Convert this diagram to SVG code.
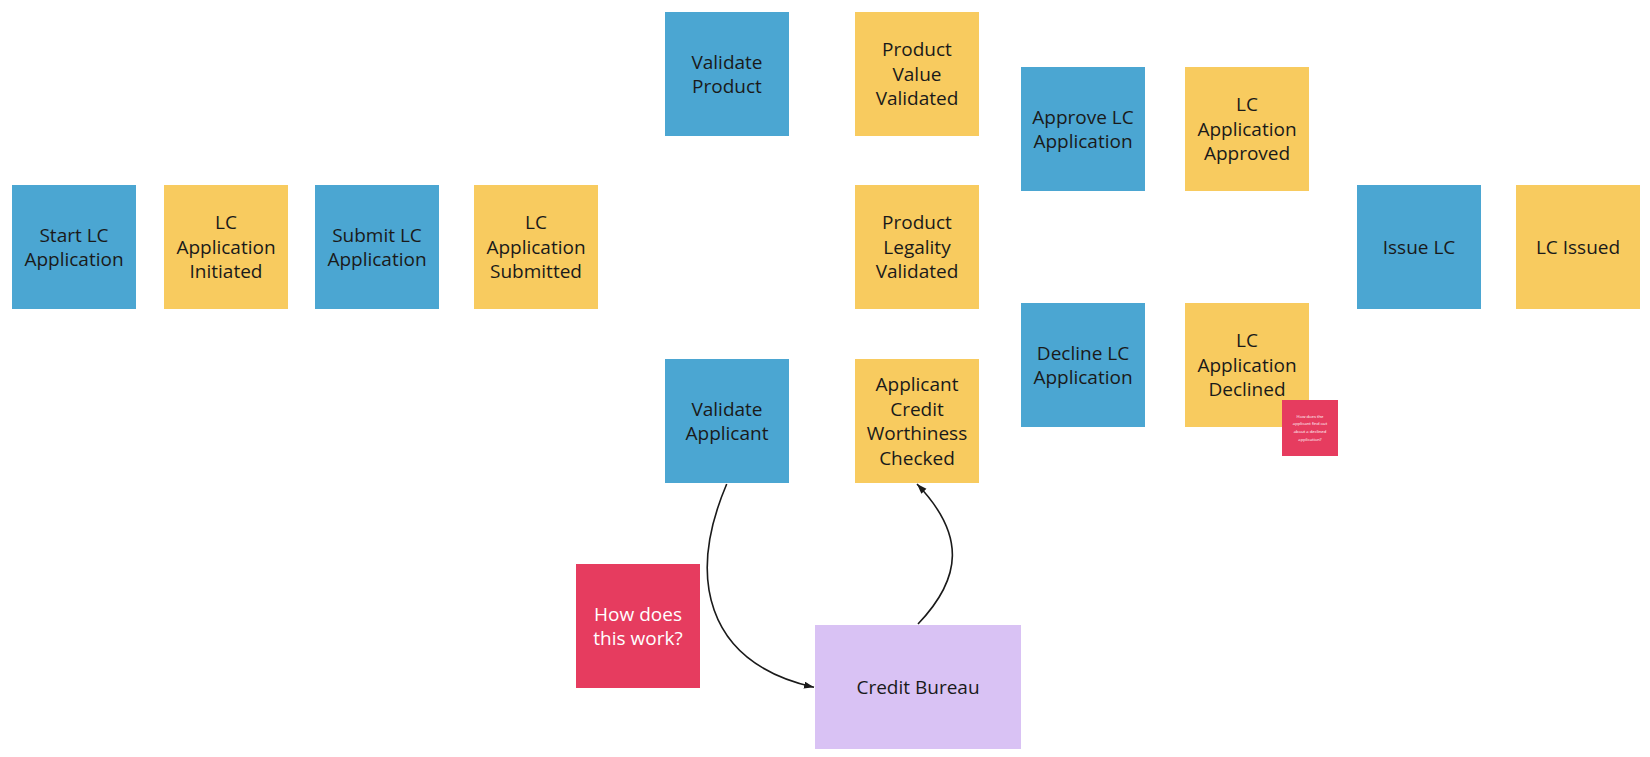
<svg xmlns="http://www.w3.org/2000/svg" width="1650" height="757" viewBox="0 0 1650 757">
  <defs>
    <style>
      .blue { fill: #4BA6D2; }
      .yellow { fill: #F8CB5F; }
      .red { fill: #E63C5F; }
      .purple { fill: #D9C2F4; }
      .lbl { font-family: "Open Sans", "Liberation Sans", sans-serif; font-size: 19px; fill: #1a1a1a; text-anchor: middle; }
      .lbl-w { font-family: "Open Sans", "Liberation Sans", sans-serif; font-size: 19px; fill: #ffffff; text-anchor: middle; }
      .tiny { font-family: "Open Sans", "Liberation Sans", sans-serif; font-size: 4.2px; fill: #ffffff; text-anchor: middle; }
      .conn { fill: none; stroke: #1a1a1a; stroke-width: 1.6; }
    </style>
    <marker id="arrow" markerWidth="11" markerHeight="8" refX="10" refY="3.5" orient="auto" markerUnits="userSpaceOnUse">
      <path d="M0,0 L10,3.5 L0,7 z" fill="#1a1a1a"/>
    </marker>
  </defs>
  <rect width="1650" height="757" fill="#ffffff"/>

  <g id="start-lc-application">
    <rect class="blue" x="12" y="185" width="124" height="124"/>
    <text class="lbl"><tspan x="74" y="241.5">Start LC</tspan><tspan x="74" y="266.1">Application</tspan></text>
  </g>
  <g id="lc-application-initiated">
    <rect class="yellow" x="164" y="185" width="124" height="124"/>
    <text class="lbl"><tspan x="226" y="229.2">LC</tspan><tspan x="226" y="253.8">Application</tspan><tspan x="226" y="278.4">Initiated</tspan></text>
  </g>
  <g id="submit-lc-application">
    <rect class="blue" x="315" y="185" width="124" height="124"/>
    <text class="lbl"><tspan x="377" y="241.5">Submit LC</tspan><tspan x="377" y="266.1">Application</tspan></text>
  </g>
  <g id="lc-application-submitted">
    <rect class="yellow" x="474" y="185" width="124" height="124"/>
    <text class="lbl"><tspan x="536" y="229.2">LC</tspan><tspan x="536" y="253.8">Application</tspan><tspan x="536" y="278.4">Submitted</tspan></text>
  </g>

  <g id="validate-product">
    <rect class="blue" x="665" y="12" width="124" height="124"/>
    <text class="lbl"><tspan x="727" y="68.5">Validate</tspan><tspan x="727" y="93.1">Product</tspan></text>
  </g>
  <g id="product-value-validated">
    <rect class="yellow" x="855" y="12" width="124" height="124"/>
    <text class="lbl"><tspan x="917" y="56.2">Product</tspan><tspan x="917" y="80.8">Value</tspan><tspan x="917" y="105.4">Validated</tspan></text>
  </g>
  <g id="product-legality-validated">
    <rect class="yellow" x="855" y="185" width="124" height="124"/>
    <text class="lbl"><tspan x="917" y="229.2">Product</tspan><tspan x="917" y="253.8">Legality</tspan><tspan x="917" y="278.4">Validated</tspan></text>
  </g>

  <g id="approve-lc-application">
    <rect class="blue" x="1021" y="67" width="124" height="124"/>
    <text class="lbl"><tspan x="1083" y="123.5">Approve LC</tspan><tspan x="1083" y="148.1">Application</tspan></text>
  </g>
  <g id="lc-application-approved">
    <rect class="yellow" x="1185" y="67" width="124" height="124"/>
    <text class="lbl"><tspan x="1247" y="111.2">LC</tspan><tspan x="1247" y="135.8">Application</tspan><tspan x="1247" y="160.4">Approved</tspan></text>
  </g>
  <g id="decline-lc-application">
    <rect class="blue" x="1021" y="303" width="124" height="124"/>
    <text class="lbl"><tspan x="1083" y="359.5">Decline LC</tspan><tspan x="1083" y="384.1">Application</tspan></text>
  </g>
  <g id="lc-application-declined">
    <rect class="yellow" x="1185" y="303" width="124" height="124"/>
    <text class="lbl"><tspan x="1247" y="347.2">LC</tspan><tspan x="1247" y="371.8">Application</tspan><tspan x="1247" y="396.4">Declined</tspan></text>
  </g>
  <g id="declined-note">
    <rect class="red" x="1282" y="400" width="56" height="56"/>
    <text class="tiny"><tspan x="1310" y="417.5">How does the</tspan><tspan x="1310" y="425.2">applicant find out</tspan><tspan x="1310" y="432.8">about a declined</tspan><tspan x="1310" y="440.5">application?</tspan></text>
  </g>

  <g id="issue-lc">
    <rect class="blue" x="1357" y="185" width="124" height="124"/>
    <text class="lbl"><tspan x="1419" y="253.8">Issue LC</tspan></text>
  </g>
  <g id="lc-issued">
    <rect class="yellow" x="1516" y="185" width="124" height="124"/>
    <text class="lbl"><tspan x="1578" y="253.8">LC Issued</tspan></text>
  </g>

  <g id="validate-applicant">
    <rect class="blue" x="665" y="359" width="124" height="124"/>
    <text class="lbl"><tspan x="727" y="415.5">Validate</tspan><tspan x="727" y="440.1">Applicant</tspan></text>
  </g>
  <g id="applicant-credit-worthiness-checked">
    <rect class="yellow" x="855" y="359" width="124" height="124"/>
    <text class="lbl"><tspan x="917" y="390.9">Applicant</tspan><tspan x="917" y="415.5">Credit</tspan><tspan x="917" y="440.1">Worthiness</tspan><tspan x="917" y="464.7">Checked</tspan></text>
  </g>
  <g id="how-does-this-work">
    <rect class="red" x="576" y="564" width="124" height="124"/>
    <text class="lbl-w"><tspan x="638" y="620.5">How does</tspan><tspan x="638" y="645.1">this work?</tspan></text>
  </g>
  <g id="credit-bureau">
    <rect class="purple" x="815" y="625" width="206" height="124"/>
    <text class="lbl"><tspan x="918" y="693.8">Credit Bureau</tspan></text>
  </g>

  <g id="connectors">
    <path class="conn" d="M726.7,484 C688,575 703,662 814,687.3" marker-end="url(#arrow)"/>
    <path class="conn" d="M918,624 C962,578 966,535 917,484" marker-end="url(#arrow)"/>
  </g>
</svg>
